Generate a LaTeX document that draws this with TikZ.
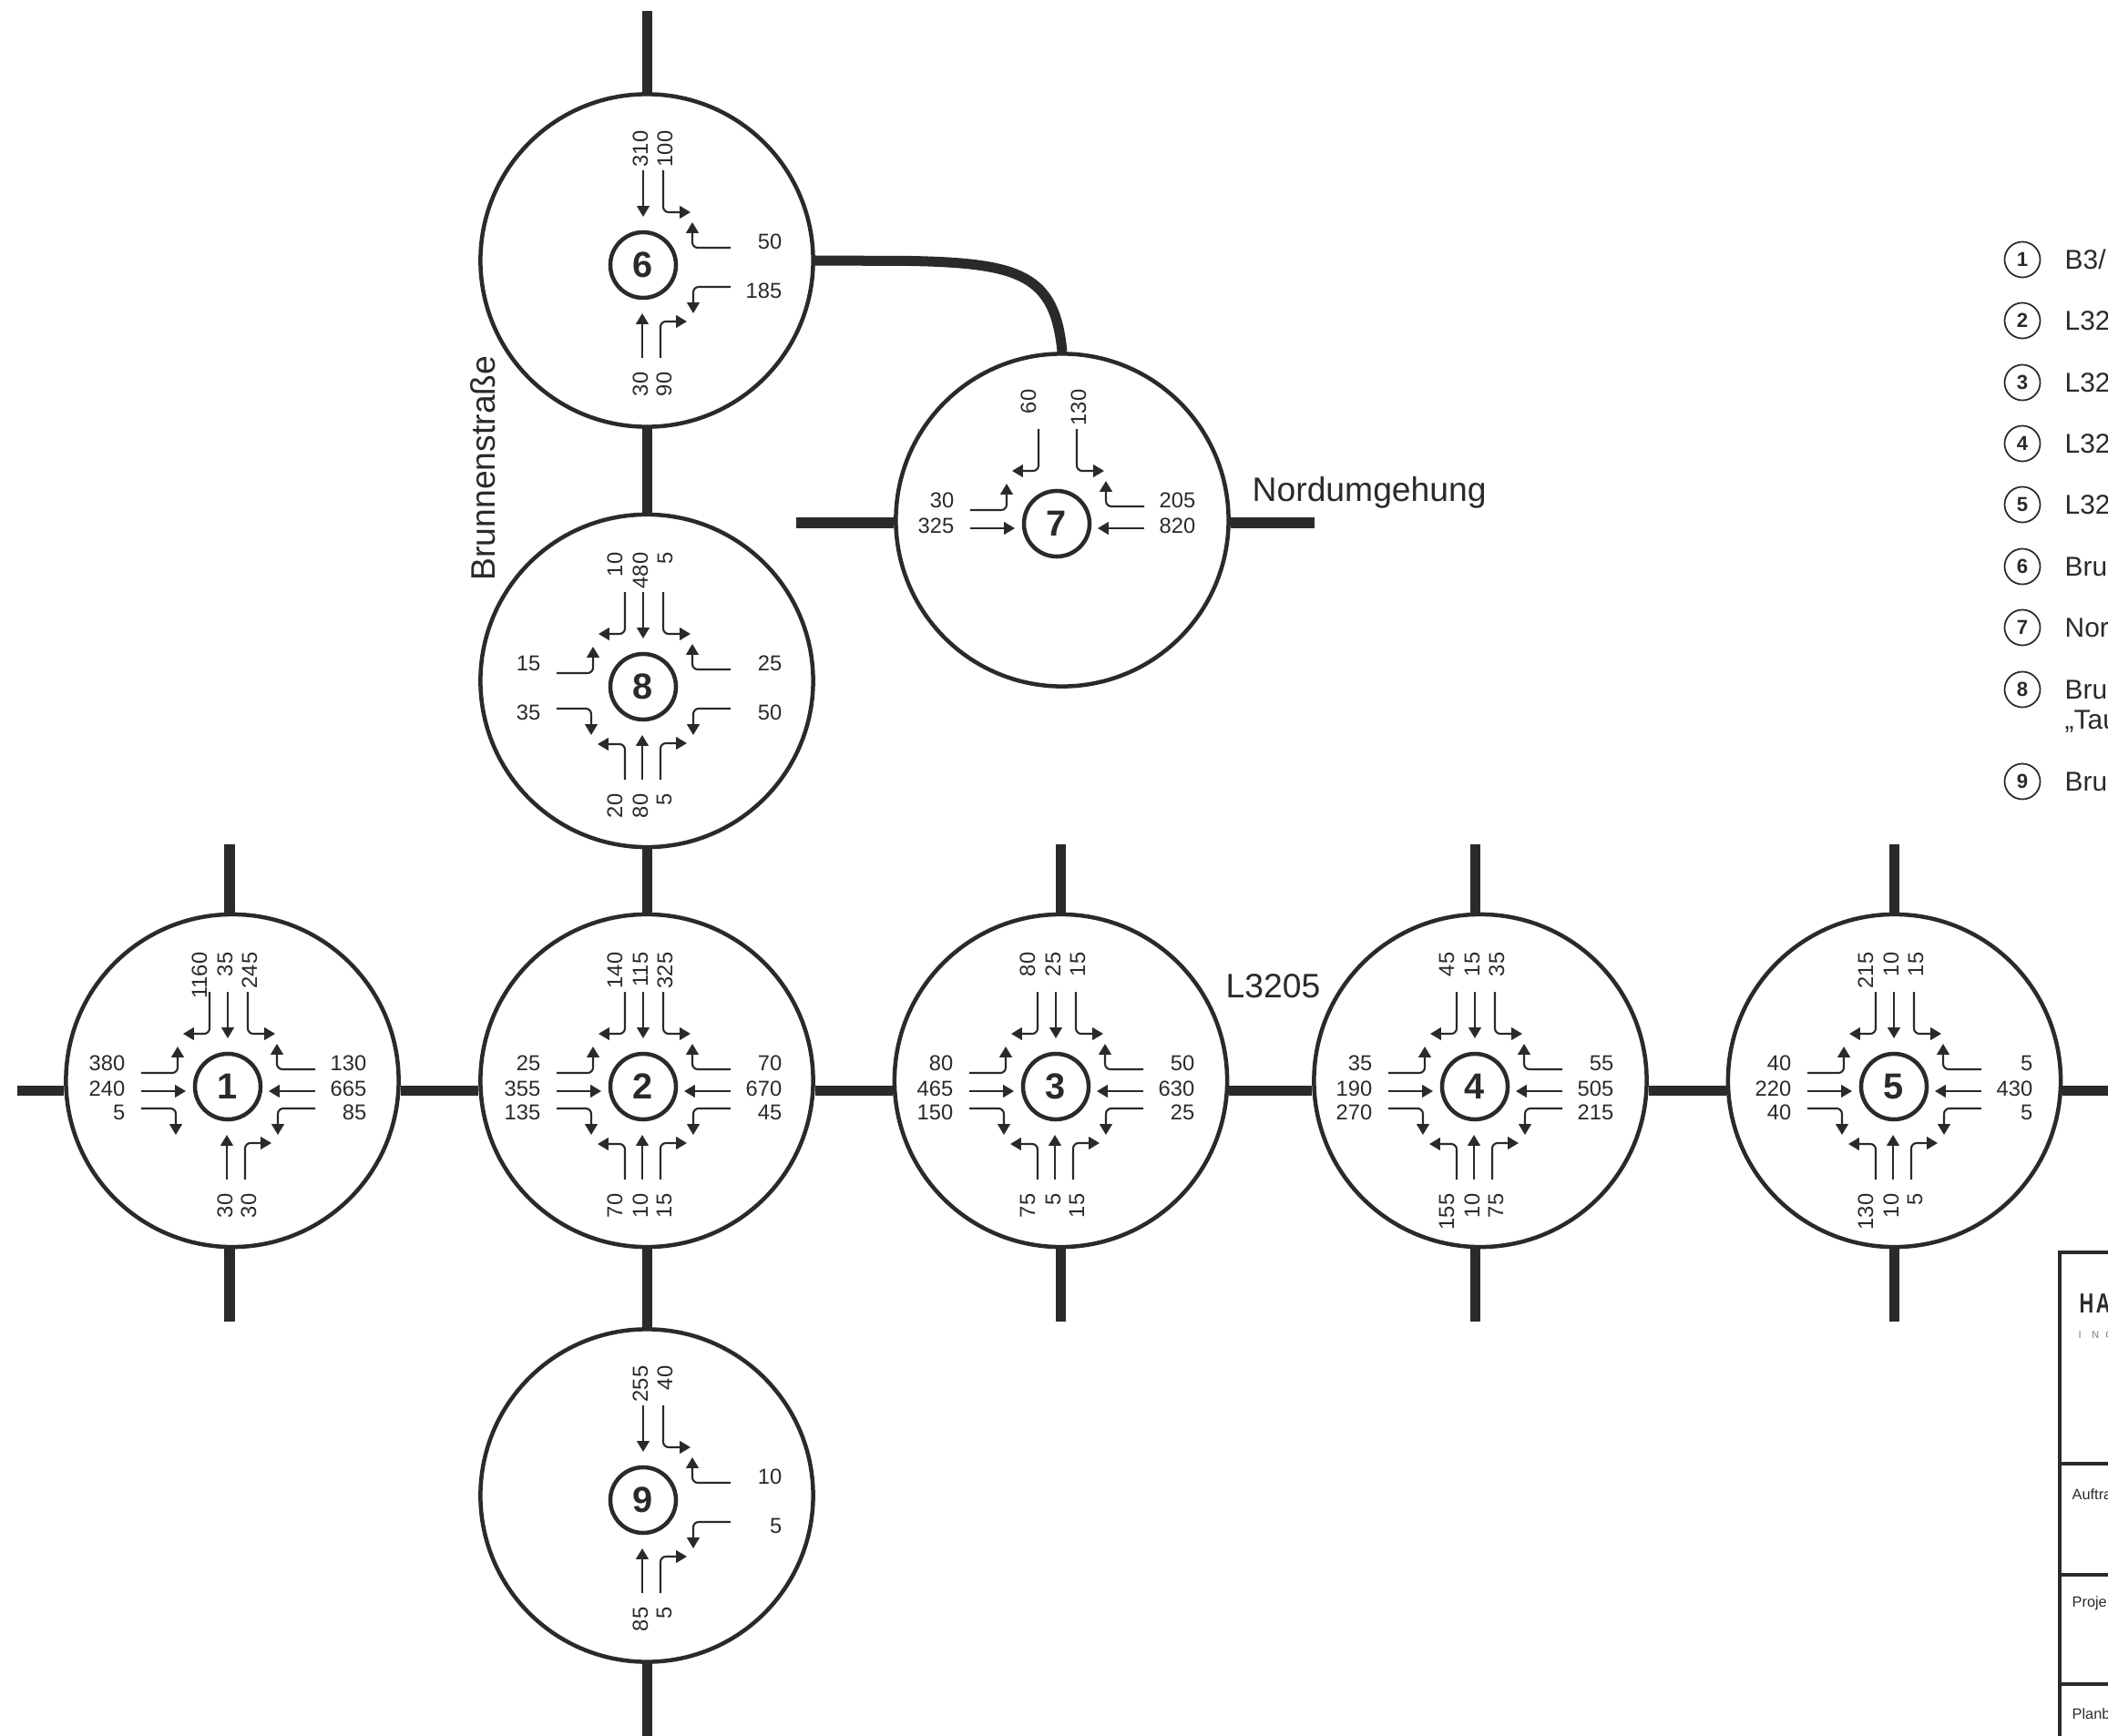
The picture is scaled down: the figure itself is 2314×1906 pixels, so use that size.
\documentclass[tikz,border=0pt]{standalone}
\usepackage{fontspec}
\usepackage{etoolbox}
\setmainfont{Liberation Sans}
\usetikzlibrary{arrows.meta}
\definecolor{ink}{HTML}{2B2A29}
\tikzset{
    road/.style = {line width = 3.13pt},
    ring/.style = {draw, circle, line width = 1.28pt, minimum size = 3.65cm, inner sep = 0pt},
    hub/.style = {draw, circle, line width = 1.28pt, minimum size = 0.72cm, inner sep = 0pt, font = \fontsize{11.3}{13}\selectfont\bfseries},
    flowarrow/.style = {line width = 0.6pt, rounded corners = 1.7pt, -{Triangle[length = 3.4pt, width = 3.9pt]}},
    numh/.style = {anchor = east, inner sep = 0pt, font = \fontsize{6.75}{8}\selectfont},
    numv/.style = {numh, rotate = 90},
    streetname/.style = {anchor = base west, inner sep = 0pt, font = \fontsize{10.6}{12}\selectfont},
    legendmark/.style = {draw, circle, line width = 0.5pt, minimum size = 0.39cm, inner sep = 0pt, font = \fontsize{6.3}{7}\selectfont\bfseries},
    legendtext/.style = {anchor = base west, inner sep = 0pt, font = \fontsize{8.5}{10}\selectfont},
    frameline/.style = {line width = 1.1pt},
    smalltext/.style = {anchor = base west, inner sep = 0pt, font = \fontsize{4.64}{6}\selectfont}
}
\newcommand{\junction}[3]{
    \node[ring] (j#1) at (#2) {};
    \node[hub] (c#1) at (#3) {#1};
}
\newcommand{\flowline}[4]{
    \coordinate (#1s) at #2;
    \coordinate (#1e) at #4;
    \draw[flowarrow] (#1s) #3 (#1e);
}
\newcommand{\northarm}[4]{
    \begin{scope}[shift = {(c#1)}]
        \ifblank{#2}{}{\node[numv] (n#1l) at (-31, -148) {#2}; \flowline{n#1l}{(-20, -104)}{|-}{(-49, -58)}}
        \ifblank{#3}{}{\node[numv] (n#1t) at (-3, -148) {#3}; \flowline{n#1t}{(0, -104)}{--}{(0, -53)}}
        \ifblank{#4}{}{\node[numv] (n#1r) at (24, -148) {#4}; \flowline{n#1r}{(22, -104)}{|-}{(52, -58)}}
    \end{scope}
}
\newcommand{\southarm}[4]{
    \begin{scope}[shift = {(c#1)}]
        \ifblank{#2}{}{\node[numv] (s#1l) at (-31, 117) {#2}; \flowline{s#1l}{(-20, 102)}{|-}{(-50, 63)}}
        \ifblank{#3}{}{\node[numv] (s#1t) at (-3, 117) {#3}; \flowline{s#1t}{(-1, 102)}{--}{(-1, 53)}}
        \ifblank{#4}{}{\node[numv] (s#1r) at (23, 117) {#4}; \flowline{s#1r}{(19, 102)}{|-}{(48, 62)}}
    \end{scope}
}
\newcommand{\westarm}[4]{
    \begin{scope}[shift = {(c#1)}]
        \ifblank{#2}{}{\node[numh] (w#1l) at (-112, -26) {#2}; \flowline{w#1l}{(-95, -15)}{-|}{(-55, -44)}}
        \ifblank{#3}{}{\node[numh] (w#1t) at (-112, 2) {#3}; \flowline{w#1t}{(-95, 5)}{--}{(-46, 5)}}
        \ifblank{#4}{}{\node[numh] (w#1r) at (-112, 28) {#4}; \flowline{w#1r}{(-95, 24)}{-|}{(-57, 53)}}
    \end{scope}
}
\newcommand{\eastarm}[4]{
    \begin{scope}[shift = {(c#1)}]
        \ifblank{#2}{}{\node[numh] (e#1r) at (153, -26) {#2}; \flowline{e#1r}{(96, -19)}{-|}{(54, -47)}}
        \ifblank{#3}{}{\node[numh] (e#1t) at (153, 2) {#3}; \flowline{e#1t}{(96, 5)}{--}{(45, 5)}}
        \ifblank{#4}{}{\node[numh] (e#1l) at (153, 28) {#4}; \flowline{e#1l}{(96, 24)}{-|}{(55, 53)}}
    \end{scope}
}
\begin{document}
\begin{tikzpicture}[x = 0.01cm, y = -0.01cm, color = ink]
    \useasboundingbox (0, 0) rectangle (2314, 1906);

    \junction{1}{255, 1186.5}{250, 1193}
    \junction{2}{710, 1186.5}{706, 1193}
    \junction{3}{1164.5, 1186.5}{1159, 1193}
    \junction{4}{1625, 1186.5}{1619, 1193}
    \junction{5}{2079.5, 1186.5}{2079, 1193}
    \junction{6}{710, 286}{706, 291}
    \junction{7}{1166, 571}{1160, 575}
    \junction{8}{710, 747.5}{706, 754}
    \junction{9}{710, 1642}{706, 1647}

    \coordinate (west1) at (19, 1197);
    \coordinate (east5) at (2314, 1197);
    \coordinate (top1) at (252, 927);
    \coordinate (bot1) at (252, 1451);
    \coordinate (top3) at (1164.5, 927);
    \coordinate (bot3) at (1164.5, 1451);
    \coordinate (top4) at (1619, 927);
    \coordinate (bot4) at (1619, 1451);
    \coordinate (top5) at (2079.5, 927);
    \coordinate (bot5) at (2079.5, 1451);
    \coordinate (top6) at (710, 12);
    \coordinate (bot9) at (710, 1906);
    \coordinate (west7) at (874, 574);
    \coordinate (east7) at (1443, 574);
    \coordinate (bend67) at (1000, 286.5);

    \draw[road] (west1) -- (west1 -| j1.west);
    \draw[road] (west1 -| j1.east) -- (west1 -| j2.west);
    \draw[road] (west1 -| j2.east) -- (west1 -| j3.west);
    \draw[road] (west1 -| j3.east) -- (west1 -| j4.west);
    \draw[road] (west1 -| j4.east) -- (west1 -| j5.west);
    \draw[road] (west1 -| j5.east) -- (east5);
    \draw[road] (top1) -- (top1 |- j1.north);
    \draw[road] (bot1 |- j1.south) -- (bot1);
    \draw[road] (top3) -- (j3.north);
    \draw[road] (j3.south) -- (bot3);
    \draw[road] (top4) -- (top4 |- j4.north);
    \draw[road] (bot4 |- j4.south) -- (bot4);
    \draw[road] (top5) -- (j5.north);
    \draw[road] (j5.south) -- (bot5);
    \draw[road] (top6) -- (j6.north);
    \draw[road] (j6.south) -- (j8.north);
    \draw[road] (j8.south) -- (j2.north);
    \draw[road] (j2.south) -- (j9.north);
    \draw[road] (j9.south) -- (bot9);
    \draw[road] (west7) -- (west7 -| j7.west);
    \draw[road] (east7 -| j7.east) -- (east7);
    \draw[road] (j6.east) -- (bend67) .. controls (1120, 289) and (1158, 302) .. (j7.north);

    \northarm{1}{1160}{35}{245}
    \westarm{1}{380}{240}{5}
    \eastarm{1}{130}{665}{85}
    \southarm{1}{}{30}{30}

    \northarm{2}{140}{115}{325}
    \westarm{2}{25}{355}{135}
    \eastarm{2}{70}{670}{45}
    \southarm{2}{70}{10}{15}

    \northarm{3}{80}{25}{15}
    \westarm{3}{80}{465}{150}
    \eastarm{3}{50}{630}{25}
    \southarm{3}{75}{5}{15}

    \northarm{4}{45}{15}{35}
    \westarm{4}{35}{190}{270}
    \eastarm{4}{55}{505}{215}
    \southarm{4}{155}{10}{75}

    \northarm{5}{215}{10}{15}
    \westarm{5}{40}{220}{40}
    \eastarm{5}{5}{430}{5}
    \southarm{5}{130}{10}{5}

    \northarm{6}{}{310}{100}
    \eastarm{6}{50}{}{185}
    \southarm{6}{}{30}{90}

    \northarm{7}{60}{}{130}
    \westarm{7}{30}{325}{}
    \eastarm{7}{205}{820}{}

    \northarm{8}{10}{480}{5}
    \westarm{8}{15}{}{35}
    \eastarm{8}{25}{}{50}
    \southarm{8}{20}{80}{5}

    \northarm{9}{}{255}{40}
    \eastarm{9}{10}{}{5}
    \southarm{9}{}{85}{5}

    \node[streetname] (nord) at (1374, 550) {Nordumgehung};
    \node[streetname] (lstreet) at (1345, 1095) {L3205};
    \node[streetname, rotate = 90] (brunnen) at (543, 638) {Brunnenstraße};

    \node[legendmark] (m1) at (2220, 285) {1};
    \node[legendmark] (m2) at (2220, 352) {2};
    \node[legendmark] (m3) at (2220, 420) {3};
    \node[legendmark] (m4) at (2220, 487) {4};
    \node[legendmark] (m5) at (2220, 554) {5};
    \node[legendmark] (m6) at (2220, 622) {6};
    \node[legendmark] (m7) at (2220, 689) {7};
    \node[legendmark] (m8) at (2220, 757) {8};
    \node[legendmark] (m9) at (2220, 858) {9};
    \node[legendtext] (t1) at (2266, 295.5) {B3/};
    \node[legendtext] (t2) at (2266, 362.5) {L32};
    \node[legendtext] (t3) at (2266, 430.5) {L32};
    \node[legendtext] (t4) at (2266, 497.5) {L32};
    \node[legendtext] (t5) at (2266, 564.5) {L32};
    \node[legendtext] (t6) at (2266, 632.5) {Bru};
    \node[legendtext] (t7) at (2266, 699.5) {Nor};
    \node[legendtext] (t8) at (2266, 767.5) {Bru};
    \node[legendtext] (t8b) at (2266, 800) {„Tau};
    \node[legendtext] (t9) at (2266, 868.5) {Bru};

    \draw[frameline] (2314, 1375) -- (2261, 1375) -- (2261, 1906);
    \draw[frameline] (2261, 1607) -- (2314, 1607);
    \draw[frameline] (2261, 1729) -- (2314, 1729);
    \draw[frameline] (2259, 1849) -- (2314, 1849);
    \node[smalltext, font = \fontsize{8.6}{10}\selectfont\bfseries\addfontfeature{LetterSpace = 12}, xscale = 0.72, transform shape] (hfirm) at (2282, 1441) {HA};
    \node[smalltext, font = \fontsize{3.2}{4}\selectfont, color = ink!60] (ifirm) at (2281, 1469) {I\kern3.2pt N\kern2pt G};
    \node[smalltext] (auftrag) at (2274, 1646) {Auftra};
    \node[smalltext] (projekt) at (2274, 1764) {Proje};
    \node[smalltext] (planb) at (2274, 1887) {Planb};
\end{tikzpicture}
\end{document}
